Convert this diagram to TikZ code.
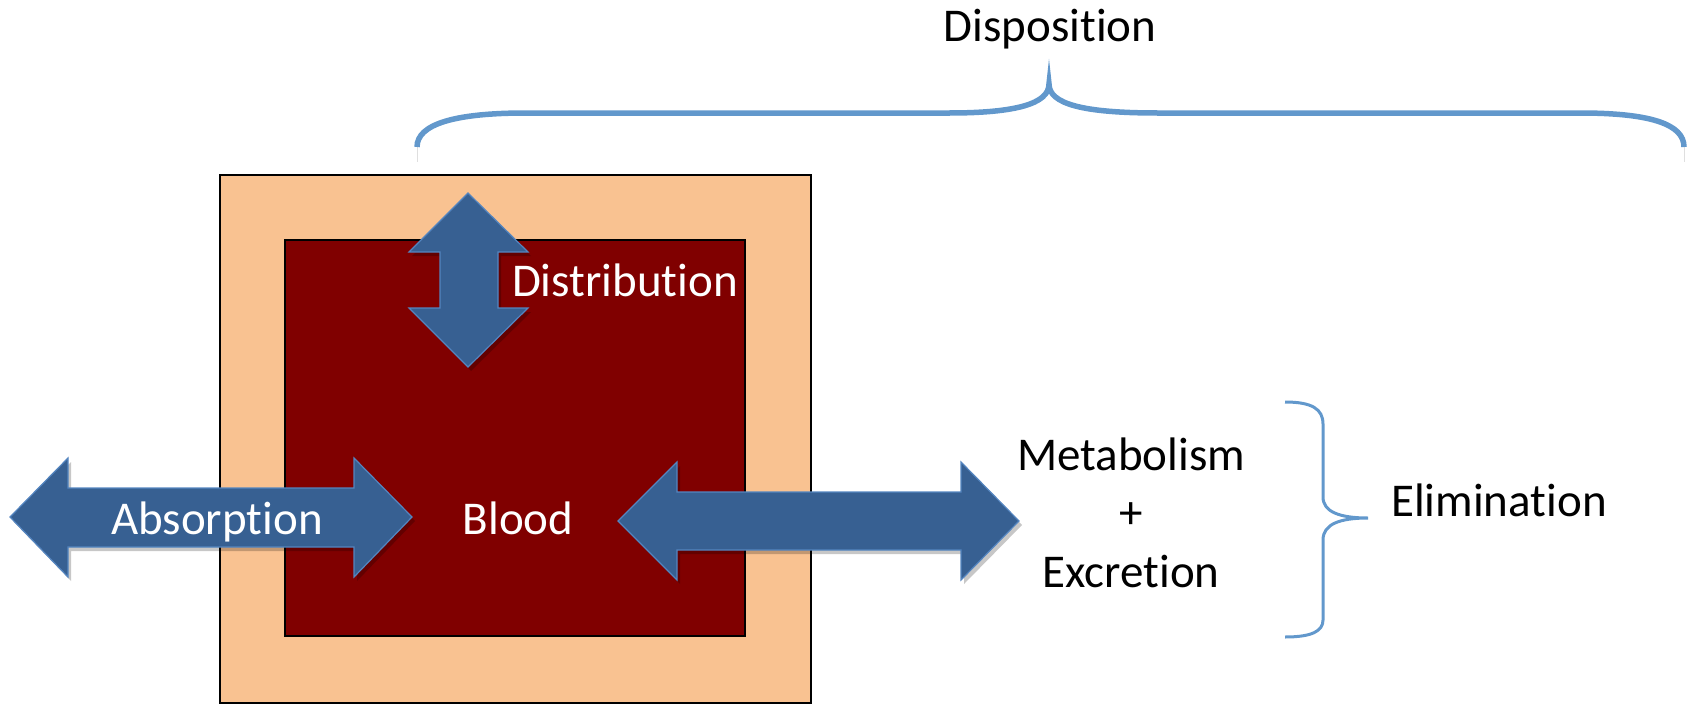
\documentclass[tikz,border=0pt]{standalone}
\usepackage{fontspec}
\setmainfont{Carlito}[Ligatures={NoCommon}]
\usepackage{tikz}
\definecolor{tissue}{RGB}{249,194,145}
\definecolor{bloodred}{RGB}{128,0,0}
\definecolor{arrowfill}{RGB}{55,96,146}
\definecolor{arrowedge}{RGB}{84,133,192}
\definecolor{bracecol}{RGB}{98,152,204}

\begin{document}
\begin{tikzpicture}[x=1pt,y=-1pt,
  blockarrow/.style={preaction={fill=black,opacity=0.22,transform canvas={xshift=3pt,yshift=-4pt}},
    fill=arrowfill,draw=arrowedge,line width=1.2pt,line join=miter},
  lbl/.style={font=\fontsize{47}{56}\selectfont,anchor=base,inner sep=0pt}]
  \useasboundingbox (0,0) rectangle (1691,704);
  % compartments
  \draw[line width=2pt,fill=tissue] (220,175) rectangle (811,703);
  \draw[line width=1.6pt,fill=bloodred] (285,240) rectangle (745,636);
  % block arrows
  \path[blockarrow] (468,193) -- (528,252) -- (498,252) -- (498,308) -- (528,308) -- (468,367)
    -- (409,308) -- (440,308) -- (440,252) -- (409,252) -- cycle;
  \path[blockarrow] (10,517) -- (68,458) -- (68,488) -- (354,488) -- (354,458) -- (412,517)
    -- (354,577) -- (354,547) -- (68,547) -- (68,577) -- cycle;
  \path[blockarrow] (618,521) -- (677,462) -- (677,492) -- (961,492) -- (961,462) -- (1019,521)
    -- (961,580) -- (961,550) -- (677,550) -- (677,580) -- cycle;
  % labels
  \node[lbl,white] (absorb) at (217,534) {Absorption};
  \node[lbl,white] (blood) at (518,534) {Blood};
  \node[lbl,white] (distrib) at (625,296) {Distribution};
  \node[lbl] (metab) at (1131,470) {Metabolism};
  \node[lbl] (plus) at (1131,528) {+};
  \node[lbl] (excr) at (1131,587) {Excretion};
  \node[lbl] (elim) at (1499,516) {Elimination};
  \node[lbl] (dispo) at (1050,41) {Disposition};
  % disposition brace
  \coordinate (dl) at (417,147); \coordinate (dr) at (1684,147); \coordinate (dtip) at (1049,84);
  \draw[gray!25,line width=0.8pt] (dl) -- ++(0,15); \draw[gray!25,line width=0.8pt] (dr) -- ++(0,15);
  \draw[bracecol,line width=5.5pt] (dl) .. controls (417,124) and (455,113) .. (526,113) -- (949,113)
    .. controls (1015,113) and (1049,104) .. (dtip) .. controls (1049,104) and (1083,113) .. (1158,113)
    -- (1580,113) .. controls (1650,113) and (1684,124) .. (dr);
  % elimination brace
  \coordinate (et) at (1285,402); \coordinate (eb) at (1285,637); \coordinate (etip) at (1368,518);
  \draw[bracecol,line width=3pt] (et) .. controls (1312,402) and (1323,409) .. (1323,424) -- (1323,497)
    .. controls (1323,512) and (1340,518) .. (etip) .. controls (1340,518) and (1323,524) .. (1323,540)
    -- (1323,620) .. controls (1323,631) and (1312,637) .. (eb);
\end{tikzpicture}
\end{document}
